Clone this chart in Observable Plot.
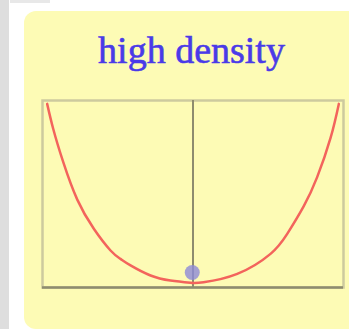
<!DOCTYPE html>
<html>
<head>
<meta charset="utf-8">
<script src="https://cdn.jsdelivr.net/npm/d3@7"></script>
<script src="https://cdn.jsdelivr.net/npm/@observablehq/plot@0.6"></script>
<style>
  html, body { margin: 0; padding: 0; }
  body { width: 349px; height: 329px; overflow: hidden; background: #ffffff; position: relative; }
  .strip { position: absolute; left: 0; top: 0; width: 9px; height: 329px; background: #dedede; }
  .topbar { position: absolute; left: 10px; top: 0; width: 40px; height: 3px; background: #e8e8e8; }
  .panel { position: absolute; left: 24px; top: 11px; width: 360px; height: 318px;
           background: #fdfbb5; border-radius: 12px; }
  .title { position: absolute; left: 191.5px; top: 31px; transform: translateX(-50%);
           white-space: nowrap; font-family: "Liberation Serif", "DejaVu Serif", serif;
           font-size: 38px; line-height: 38px; color: #4a3ae8;
           -webkit-text-stroke: 0.6px #4a3ae8; }
  #chart { position: absolute; left: 0; top: 80px; }
</style>
</head>
<body>
<div class="strip"></div>
<div class="topbar"></div>
<div class="panel"></div>
<div class="title">high density</div>
<div id="chart"></div>
<script>
// Potential curve sampled across the well (position, energy)
const xs = [-0.969, -0.929, -0.862, -0.769, -0.659, -0.548, -0.482, -0.415, -0.282, -0.150, -0.017,
            0.070, 0.294, 0.515, 0.626, 0.736, 0.825, 0.914, 0.969];
const ys = [0.982, 0.849, 0.670, 0.470, 0.314, 0.198, 0.153, 0.118, 0.064, 0.037, 0.025,
            0.028, 0.073, 0.180, 0.287, 0.435, 0.590, 0.800, 0.982];

// Particle resting near the bottom of the well
const dotX = [-0.005];
const dotY = [0.080];

const curve = xs.map((x, i) => ({x, y: ys[i]}));
const particle = dotX.map((x, i) => ({x, y: dotY[i]}));

const chart = Plot.plot({
  width: 349,
  height: 249,
  marginLeft: 42,
  marginRight: 6,
  marginTop: 20,
  marginBottom: 42,
  style: {background: "transparent"},
  x: {domain: [-1, 1], axis: null},
  y: {domain: [0, 1], axis: null},
  marks: [
    Plot.frame({stroke: "#cdca9e", strokeWidth: 2.5}),
    Plot.ruleX([0], {stroke: "#8e8c6e", strokeWidth: 2}),
    Plot.ruleY([0], {stroke: "#8e8c6e", strokeWidth: 2.5}),
    Plot.line(curve, {x: "x", y: "y", stroke: "#f3645c", strokeWidth: 2.5, curve: "natural"}),
    Plot.dot(particle, {x: "x", y: "y", r: 7.5, fill: "#8d8ad8", fillOpacity: 0.8, stroke: "none"})
  ]
});
document.getElementById("chart").appendChild(chart);
</script>
</body>
</html>
